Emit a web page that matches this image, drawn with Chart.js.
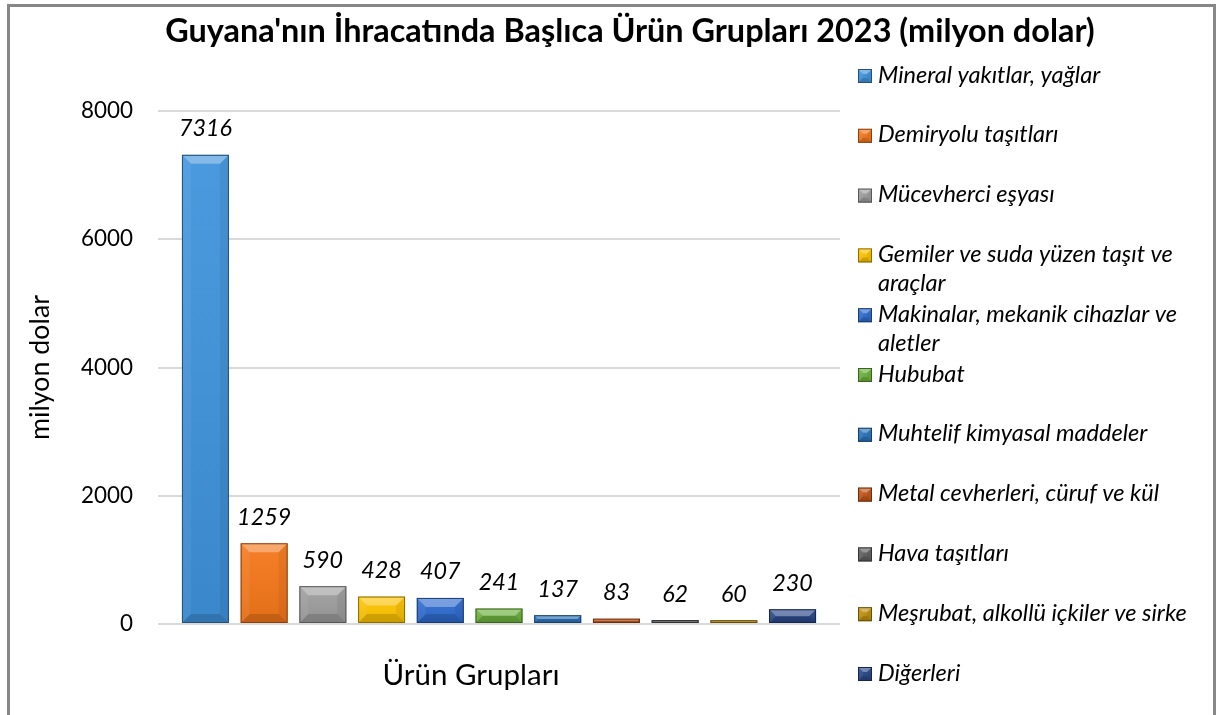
<!DOCTYPE html>
<html>
<head>
<meta charset="utf-8">
<script src="https://cdn.jsdelivr.net/npm/chart.js@4.4.1/dist/chart.umd.min.js"></script>
<style>
html,body{margin:0;padding:0;background:#fff;overflow:hidden;}
canvas{display:block;}
</style>
</head>
<body>
<canvas id="c" width="1219" height="715"></canvas>
<script>
// ---- data ----
const chartTitle = "Guyana'nın İhracatında Başlıca Ürün Grupları 2023 (milyon dolar)";
const xLabel = 'Ürün Grupları';
const yTitle = 'milyon dolar';
const categories = [
  'Mineral yakıtlar, yağlar',
  'Demiryolu taşıtları',
  'Mücevherci eşyası',
  'Gemiler ve suda yüzen taşıt ve araçlar',
  'Makinalar, mekanik cihazlar ve aletler',
  'Hububat',
  'Muhtelif kimyasal maddeler',
  'Metal cevherleri, cüruf ve kül',
  'Hava taşıtları',
  'Meşrubat, alkollü içkiler ve sirke',
  'Diğerleri'
];
const values = [7316, 1259, 590, 428, 407, 241, 137, 83, 62, 60, 230];
const yMin = 0, yMax = 8000, yStep = 2000;

// ---- styles ----
const colors = ['#3f93dc','#f5771a','#9e9e9e','#ffc400','#2e6bd0','#6cb33b','#2a74bd','#c45518','#5f5f5f','#c0900c','#27478a'];
const FAMILY = 'Lato, "Open Sans", sans-serif';

function shade(hex, f){
  const n = parseInt(hex.slice(1),16);
  let r=(n>>16)&255,g=(n>>8)&255,b=n&255;
  if(f<0){r=Math.round(r*(1+f));g=Math.round(g*(1+f));b=Math.round(b*(1+f));}
  else{r=Math.round(r+(255-r)*f);g=Math.round(g+(255-g)*f);b=Math.round(b+(255-b)*f);}
  return `rgb(${r},${g},${b})`;
}
const mctx = document.createElement('canvas').getContext('2d');
function fit(text, weight, style, target){
  mctx.font = `${style} ${weight} 100px ${FAMILY}`;
  return 100*target/mctx.measureText(text).width;
}
const titleSize = fit(chartTitle,'bold','normal',930);
const legendSize = fit(categories[9],'normal','italic',309);
const tickSize = fit('8000','normal','normal',52);
const xLabelSize = fit(xLabel,'normal','normal',177);
const yTitleSize = fit(yTitle,'normal','normal',145);
const valueSize = fit('7316','normal','italic',53);

function bevel(ctx, L, T, R, B, color, dmax){
  const w = R-L, h = B-T;
  const d = Math.max(0, Math.min(dmax, h/2, w/2));
  ctx.save();
  const g = ctx.createLinearGradient(0,T,0,B);
  g.addColorStop(0,'rgba(255,255,255,0.06)');
  g.addColorStop(1,'rgba(0,0,0,0.08)');
  ctx.fillStyle = g; ctx.fillRect(L,T,w,h);
  const poly = (pts, fill)=>{ctx.beginPath();ctx.moveTo(pts[0][0],pts[0][1]);for(let i=1;i<pts.length;i++)ctx.lineTo(pts[i][0],pts[i][1]);ctx.closePath();ctx.fillStyle=fill;ctx.fill();};
  poly([[L,T],[R,T],[R-d,T+d],[L+d,T+d]],'rgba(255,255,255,0.32)');
  poly([[L,T],[L+d,T+d],[L+d,B-d],[L,B]],'rgba(255,255,255,0.06)');
  poly([[R,T],[R-d,T+d],[R-d,B-d],[R,B]],'rgba(0,0,0,0.06)');
  poly([[L,B],[L+d,B-d],[R-d,B-d],[R,B]],'rgba(0,0,0,0.14)');
  ctx.strokeStyle = shade(color,-0.45); ctx.lineWidth = 1;
  ctx.strokeRect(L+0.5,T+0.5,w-1,h-1);
  ctx.restore();
}

const decor = {
  id:'decor',
  beforeDraw(chart){
    const ctx = chart.ctx;
    ctx.save();
    ctx.fillStyle='#fff'; ctx.fillRect(0,0,chart.width,chart.height);
    ctx.strokeStyle='#878787'; ctx.lineWidth=3;
    ctx.strokeRect(8.5,5.5,1206,740);
    ctx.restore();
  },
  afterDatasetsDraw(chart){
    const ctx = chart.ctx;
    chart.data.datasets.forEach((ds,i)=>{
      const meta = chart.getDatasetMeta(i);
      meta.data.forEach((el,j)=>{
        const L = el.x-el.width/2, R = el.x+el.width/2;
        const T = Math.min(el.y, el.base), B = Math.max(el.y, el.base);
        bevel(ctx, L, T, R, B, ds.backgroundColor, 9);
        ctx.save();
        ctx.fillStyle='#000';
        ctx.font = `italic normal ${valueSize}px ${FAMILY}`;
        ctx.textAlign='center'; ctx.textBaseline='middle';
        ctx.fillText(String(ds.data[j]), el.x, T-26);
        ctx.restore();
      });
    });
  },
  afterDraw(chart){
    const ctx = chart.ctx;
    ctx.save();
    // title
    ctx.fillStyle='#000';
    ctx.font = `normal bold ${titleSize}px ${FAMILY}`;
    ctx.textAlign='center'; ctx.textBaseline='middle';
    ctx.fillText(chartTitle, 630, 32);
    // legend
    ctx.font = `italic normal ${legendSize}px ${FAMILY}`;
    ctx.textAlign='left';
    const maxW = 335;
    chart.data.datasets.forEach((ds,i)=>{
      const y0 = 75 + i*59.8;
      ctx.fillStyle = ds.backgroundColor;
      ctx.fillRect(858, y0-6, 14, 14);
      bevel(ctx, 858, y0-6, 872, y0+8, ds.backgroundColor, 5);
      const words = ds.label.split(' ');
      const lines = []; let cur = '';
      words.forEach(w=>{
        const t = cur ? cur+' '+w : w;
        if(ctx.measureText(t).width > maxW && cur){lines.push(cur);cur=w;} else cur=t;
      });
      lines.push(cur);
      ctx.fillStyle='#000';
      lines.forEach((ln,k)=>ctx.fillText(ln, 878, y0 + k*29));
    });
    ctx.restore();
  }
};

new Chart(document.getElementById('c'), {
  type:'bar',
  data:{
    labels:[xLabel],
    datasets: categories.map((c,i)=>({
      label:c, data:[values[i]],
      backgroundColor: colors[i],
      borderWidth:0,
      barPercentage:0.8, categoryPercentage:0.947
    }))
  },
  options:{
    responsive:false, animation:false,
    layout:{padding:{left:10,right:379,top:111,bottom:0}},
    plugins:{legend:{display:false},tooltip:{enabled:false},title:{display:false}},
    scales:{
      y:{
        min:yMin, max:yMax,
        ticks:{stepSize:yStep, color:'#000', padding:25, font:{family:FAMILY,size:tickSize},
               callback:(v)=>String(v)},
        grid:{color:'#d9d9d9', lineWidth:2, drawTicks:false},
        border:{display:false},
        title:{display:true, text:yTitle, color:'#000', font:{family:FAMILY,size:yTitleSize}, padding:{top:14,bottom:0}},
        afterFit(s){ s.width = 148; }
      },
      x:{
        ticks:{color:'#000', padding:34, labelOffset:-28, font:{family:FAMILY,size:xLabelSize}},
        grid:{display:false, drawTicks:false},
        border:{display:false},
        afterFit(s){ s.height = 91; }
      }
    }
  },
  plugins:[decor]
});
</script>
</body>
</html>
